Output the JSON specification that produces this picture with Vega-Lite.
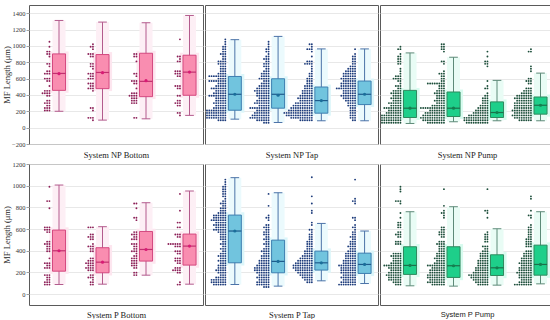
{
"$schema":"https://vega.github.io/schema/vega-lite/v6.json",
"padding":{"left":1,"right":2,"top":4,"bottom":0},
"background":"white",
"spacing":1,
"config":{
 "view":{"stroke":"#5a5a5a","strokeWidth":1},
 "font":"Liberation Serif",
 "axis":{"labelFont":"Liberation Serif","titleFont":"Liberation Serif","labelColor":"#333333","titleColor":"#222222","titleFontWeight":"normal","gridColor":"#e2e2e2","gridWidth":0.8,"ticks":false,"domain":false,"labelFontSize":6.5,"titleFontSize":8.5},
 "axisX":{"labels":false,"grid":false,"titlePadding":5},
 "axisY":{"labelPadding":1,"titlePadding":1,"ticks":true,"tickSize":3,"tickColor":"#888888","tickWidth":0.8,"format":"d","labelOverlap":false},
 "concat":{"spacing":0}
},
"datasets":{
"st":[
{"p":1,"g":0,"lo":200,"q1":456,"md":663,"q3":902,"hi":1311,"mn":660},
{"p":1,"g":1,"lo":92,"q1":477,"md":675,"q3":894,"hi":1291,"mn":672},
{"p":1,"g":2,"lo":108,"q1":379,"md":566,"q3":910,"hi":1283,"mn":575},
{"p":1,"g":3,"lo":150,"q1":396,"md":679,"q3":886,"hi":1372,"mn":680},
{"p":2,"g":0,"lo":104,"q1":213,"md":408,"q3":626,"hi":1076,"mn":408},
{"p":2,"g":1,"lo":63,"q1":238,"md":408,"q3":598,"hi":1116,"mn":396},
{"p":2,"g":2,"lo":84,"q1":177,"md":331,"q3":497,"hi":963,"mn":331},
{"p":2,"g":3,"lo":84,"q1":282,"md":408,"q3":570,"hi":963,"mn":408},
{"p":3,"g":0,"lo":51,"q1":124,"md":238,"q3":456,"hi":914,"mn":238},
{"p":3,"g":1,"lo":72,"q1":136,"md":238,"q3":436,"hi":861,"mn":238},
{"p":3,"g":2,"lo":84,"q1":124,"md":185,"q3":315,"hi":578,"mn":185},
{"p":3,"g":3,"lo":84,"q1":165,"md":274,"q3":375,"hi":667,"mn":274},
{"p":4,"g":0,"lo":89,"q1":212,"md":400,"q3":591,"hi":1006,"mn":400},
{"p":4,"g":1,"lo":92,"q1":197,"md":295,"q3":428,"hi":622,"mn":295},
{"p":4,"g":2,"lo":175,"q1":305,"md":412,"q3":578,"hi":843,"mn":412},
{"p":4,"g":3,"lo":92,"q1":268,"md":443,"q3":554,"hi":951,"mn":443},
{"p":5,"g":0,"lo":89,"q1":289,"md":582,"q3":729,"hi":1074,"mn":582},
{"p":5,"g":1,"lo":74,"q1":197,"md":302,"q3":498,"hi":935,"mn":302},
{"p":5,"g":2,"lo":123,"q1":222,"md":289,"q3":397,"hi":652,"mn":289},
{"p":5,"g":3,"lo":98,"q1":191,"md":274,"q3":378,"hi":582,"mn":274},
{"p":6,"g":0,"lo":77,"q1":182,"md":265,"q3":437,"hi":760,"mn":265},
{"p":6,"g":1,"lo":74,"q1":154,"md":262,"q3":437,"hi":806,"mn":262},
{"p":6,"g":2,"lo":83,"q1":172,"md":243,"q3":363,"hi":603,"mn":243},
{"p":6,"g":3,"lo":95,"q1":175,"md":274,"q3":452,"hi":760,"mn":274}
],
"a1":[1050,990,930,930,900,900,870,780,780,750,690,690,660,660,660,600,600,600,570,570,510,450,450,450,420,420,420,420,390,390,330,330,300,300,300,270,270,240,240,240,210,210,210],
"a2":[1020,990,990,960,900,900,900,870,870,780,780,750,750,720,660,660,660,630,630,600,600,600,540,540,540,510,510,480,480,480,450,240,240,210,120,120,120,90],
"a3":[900,900,870,870,810,660,660,630,570,570,570,540,540,480,420,420,420,390,390,390,390,360,360,360,330,330,330,300,300,300,120,120],
"a4":[1080,870,870,840,810,810,690,690,690,660,660,660,630,630,510,510,510,480,480,390,390,330,330,300,300,300,270,270,180,180,150],
"b1":[1080,1050,1020,990,990,960,960,930,930,900,900,900,870,870,840,840,810,810,810,810,780,780,780,780,750,750,750,720,720,720,690,690,690,660,660,660,660,630,630,630,630,630,630,630,630,600,600,600,600,570,570,570,570,570,570,570,570,540,540,540,540,510,510,510,510,510,480,480,480,480,480,480,480,450,450,450,450,450,420,420,420,420,420,420,390,390,390,390,390,390,390,390,360,360,360,360,360,330,330,330,330,330,300,300,300,300,300,300,270,270,270,270,270,240,240,240,240,240,240,210,210,210,210,210,210,210,210,210,180,180,180,180,180,180,180,180,180,150,150,150,150,150,150,150,150,150,120,120,120,120,120,120,120,120,120,90,90,90,90],
"b2":[1050,1020,990,960,960,930,930,900,870,870,840,840,840,810,810,780,780,780,750,750,750,720,720,690,690,690,660,660,660,660,630,630,630,630,600,600,600,600,600,570,570,570,540,540,540,540,510,510,510,510,510,480,480,480,480,480,480,450,450,450,450,450,450,450,420,420,420,420,420,420,390,390,390,390,390,390,360,360,360,360,360,330,330,330,330,330,330,300,300,300,300,300,300,300,270,270,270,270,270,240,240,240,240,240,240,240,240,240,210,210,210,210,210,210,180,180,180,180,180,180,180,150,150,150,150,150,150,150,150,120,120,120,120,120,120,120,120,120,90,90,90,90,90,90,60,60,60],
"b3":[1020,1020,990,960,960,960,930,870,810,810,810,780,780,780,780,750,720,690,660,660,630,630,600,600,600,570,570,570,540,540,540,510,510,510,510,480,480,480,480,450,450,450,450,450,420,420,420,420,420,390,390,390,390,390,390,360,360,360,360,360,360,360,330,330,330,330,330,330,300,300,300,300,300,300,300,300,270,270,270,270,270,270,270,270,270,240,240,240,240,240,240,240,240,240,240,210,210,210,210,210,210,210,210,210,210,210,180,180,180,180,180,180,180,180,180,180,180,180,180,150,150,150,150,150,150,150,150,150,150,150,150,120,120,120,120,120,120,120,120,120,120,90,90,90,90,90,90],
"b4":[960,900,870,870,840,840,810,810,780,780,750,750,750,720,720,720,720,690,690,690,690,690,660,660,660,660,660,660,630,630,630,630,630,630,600,600,600,600,600,600,600,570,570,570,570,570,570,540,540,540,540,540,540,540,510,510,510,510,510,510,510,480,480,480,480,480,480,480,480,480,450,450,450,450,450,450,420,420,420,420,420,420,390,390,390,390,390,390,390,360,360,360,360,360,360,330,330,330,330,330,300,300,300,300,270,270,270,270,240,240,240,210,210,210,180,180,180,150,150,150,120,120,120,90,90],
"c1":[990,960,960,900,870,870,840,840,810,810,780,780,720,690,660,630,630,630,600,600,600,600,570,570,540,510,510,510,480,480,450,450,450,450,420,420,420,420,420,390,390,390,390,360,360,360,360,360,330,330,330,330,300,300,300,300,300,300,270,270,270,270,270,240,240,240,240,240,240,240,240,210,210,210,210,210,210,180,180,180,180,180,180,180,150,150,150,150,150,150,150,150,150,120,120,120,120,120,120,120,120,120,90,90,90,90,90,90,90,90,90,60,60,60,60,60,60,60,60,60],
"c2":[1020,1020,990,990,960,960,930,810,810,780,690,660,660,660,630,630,600,600,570,570,540,540,540,540,540,540,540,540,510,510,510,480,480,480,450,450,450,450,420,420,420,420,420,390,390,390,390,360,360,360,360,330,330,330,330,330,300,300,300,300,270,270,270,270,270,270,240,240,240,240,240,240,240,240,240,240,240,210,210,210,210,210,210,210,180,180,180,180,180,180,180,180,180,150,150,150,150,150,150,150,150,150,150,120,120,120,120,120,120,120,120,120,120,120,90,90,90,90,90,90,90,90,90,90,60,60,60,60,60,60,60,60],
"c3":[930,870,810,810,780,780,750,570,510,480,480,420,390,390,360,360,360,330,330,330,300,300,300,270,270,270,270,240,240,240,240,240,210,210,210,210,210,210,180,180,180,180,180,180,180,150,150,150,150,150,150,150,150,150,120,120,120,120,120,120,120,120,120,120,120,90,90,90,90,90,90,90,90,90,90,90,60,60,60,60,60,60,60,60,60,60],
"c4":[960,930,930,750,720,690,600,600,570,570,570,540,540,480,480,480,450,450,450,450,420,420,420,420,420,390,390,390,390,390,390,390,360,360,360,360,360,360,360,360,330,330,330,330,330,330,330,300,300,300,300,300,300,300,300,270,270,270,270,270,270,270,270,240,240,240,240,240,240,240,240,210,210,210,210,210,210,210,210,210,180,180,180,180,180,180,180,180,150,150,150,150,150,150,150,150,150,120,120,120,120,120,120,120,120,90,90,90,90,90,90],
"d1":[990,858,858,792,616,616,616,594,594,594,572,572,484,484,462,462,462,440,440,418,418,396,396,330,286,286,286,264,264,242,242,242,176,176,176,154,154,132,132,110,110,110,88,88,88],
"d2":[616,616,616,550,550,528,528,528,506,506,462,440,440,440,418,418,396,396,330,330,308,308,308,286,286,286,286,264,264,264,242,242,242,242,220,220,220,176,176,154,154,154,132,110,110,88,88],
"d3":[836,836,792,704,704,682,572,572,550,550,550,528,528,506,506,506,462,462,462,440,440,418,418,396,396,396,374,352,352,330,330,330,308,308,308,286,286,286,264,264,264,242,242,198,198,176,176],
"d4":[924,770,660,660,616,616,550,550,550,528,528,462,462,462,462,462,462,440,440,440,396,396,396,374,374,330,330,330,308,308,308,286,286,242,242,242,220,220,220,220,198,198,110,88,88],
"e1":[1056,1034,1012,990,990,968,968,946,946,924,924,902,902,880,858,858,836,836,836,814,814,792,792,792,770,770,770,748,748,748,748,726,726,726,726,726,726,704,704,704,704,704,704,682,682,682,682,682,682,682,660,660,660,660,660,638,638,638,638,638,638,616,616,616,616,616,594,594,594,594,594,594,572,572,572,572,550,550,550,528,528,528,506,506,506,484,484,462,462,462,440,440,418,418,418,396,396,374,374,374,352,352,352,352,330,330,330,308,308,308,308,286,286,286,264,264,264,264,242,242,242,242,220,220,220,220,220,198,198,198,198,176,176,176,154,154,154,154,154,132,132,132,132,132,132,132,110,110,110,110,110,110,110,88,88,88,88,88,88],
"e2":[924,814,726,704,704,682,638,638,616,616,616,594,594,572,572,572,550,550,550,528,528,506,506,506,484,484,462,462,462,440,440,418,418,418,396,396,396,396,374,374,374,352,352,352,352,330,330,330,330,308,308,308,308,308,286,286,286,286,286,264,264,264,264,264,264,242,242,242,242,242,242,242,220,220,220,220,220,220,220,198,198,198,198,198,198,176,176,176,176,176,154,154,154,154,154,154,132,132,132,132,132,110,110,110,110,110,110,88,88,88,88,88,88,66,66,66],
"e3":[1078,902,836,770,748,660,638,594,594,572,550,550,528,528,506,506,484,484,484,462,462,462,440,440,440,418,418,418,396,396,396,396,374,374,374,374,352,352,352,352,352,330,330,330,330,330,330,308,308,308,308,308,308,308,286,286,286,286,286,286,286,286,264,264,264,264,264,264,264,264,264,242,242,242,242,242,242,242,242,242,220,220,220,220,220,220,220,220,198,198,198,198,198,198,198,176,176,176,176,176,176,154,154,154,154,154,132,132,132,132,110,110,110],
"e4":[1056,880,858,858,836,704,704,682,638,616,616,594,572,572,550,550,528,528,528,506,506,484,484,484,462,462,462,440,440,440,440,418,418,418,396,396,396,396,374,374,374,374,374,352,352,352,352,352,330,330,330,330,330,308,308,308,308,308,308,286,286,286,286,286,286,264,264,264,264,264,264,264,264,242,242,242,242,242,242,242,220,220,220,220,220,220,220,198,198,198,198,198,198,198,176,176,176,176,176,176,154,154,154,154,154,154,154,132,132,132,132,132,132,110,110,110,110,110,110,110,88,88,88,88,88,88,88,88],
"f1":[990,968,946,858,858,858,836,748,704,660,660,638,638,616,616,572,572,550,550,550,528,528,484,484,484,462,462,462,374,374,374,374,352,352,352,352,352,330,330,330,330,308,308,308,308,286,286,286,286,286,264,264,264,264,264,264,264,264,242,242,242,242,242,242,220,220,220,220,220,198,198,198,198,198,198,176,176,176,176,176,176,176,154,154,154,154,154,154,132,132,132,132,132,132,110,110,110,110,88,88,88],
"f2":[968,814,770,748,748,726,704,616,616,594,594,572,572,572,550,550,550,528,528,484,484,484,462,462,462,462,440,440,440,418,418,418,396,396,396,374,374,374,374,352,352,352,352,330,330,330,330,330,308,308,308,308,286,286,286,286,286,264,264,264,264,264,264,264,264,242,242,242,242,242,242,220,220,220,220,220,220,220,198,198,198,198,198,198,198,176,176,176,176,176,176,176,176,154,154,154,154,154,154,154,154,132,132,132,132,132,132,132,110,110,110,110,110,110,110,110,88,88,88,88,88,88],
"f3":[968,770,770,748,704,572,550,550,528,528,506,506,484,484,440,440,440,418,418,396,396,396,374,374,374,374,352,352,352,352,330,330,330,330,308,308,308,308,308,286,286,286,286,286,264,264,264,264,264,242,242,242,242,242,242,220,220,220,220,220,220,198,198,198,198,198,198,198,176,176,176,176,176,176,176,176,176,154,154,154,154,154,154,154,154,132,132,132,132,132,132,132,110,110,110,110,110,110,88,88,88,88,88],
"f4":[902,880,770,726,726,704,638,616,616,594,594,572,572,550,550,528,528,506,506,506,484,484,484,462,462,462,440,440,440,396,396,396,374,374,374,374,352,352,352,352,330,330,330,330,330,308,308,308,308,308,286,286,286,286,286,286,264,264,264,264,264,242,242,242,242,242,242,220,220,220,220,220,220,198,198,198,198,198,198,198,176,176,176,176,176,176,154,154,154,154,154,154,132,132,132,132,132,110,110,110,110,110,110,88,88,88,88,88,88,88,88]
},
"vconcat":[
{"spacing":0,"hconcat":[
{"width":174,"height":139,"layer":[
 {"data":{"name":"st"},"transform":[{"filter":"datum.p==1"},{"calculate":"datum.g+0.69","as":"x"},{"calculate":"datum.g+0.54","as":"xa"},{"calculate":"datum.g+0.84","as":"xb"},{"calculate":"datum.g+0.59","as":"ca"},{"calculate":"datum.g+0.79","as":"cb"},{"calculate":"datum.g+0.47","as":"ha"},{"calculate":"datum.g+0.91","as":"hb"},{"calculate":"datum.q1-30","as":"hl"},{"calculate":"datum.q3+30","as":"hh"}],
 "layer":[
  {"mark":{"type":"rect","fill":"#fde6ef"},"encoding":{"x":{"field":"ha","type":"quantitative","scale":{"domain":[0,4],"nice":false,"zero":false},"axis":{"title":"System NP Bottom","titlePadding":6}},"x2":{"field":"hb"},"y":{"field":"hl","type":"quantitative","scale":{"domain":[-200,1500],"nice":false,"zero":false},"axis":{"title":"MF Length (μm)","values":[-200,0,200,400,600,800,1000,1200,1400],"tickCount":30,"minExtent":17,"maxExtent":17}},"y2":{"field":"hh"}}},
  {"mark":{"type":"rect","fill":"#fdeff5"},"encoding":{"x":{"field":"xa","type":"quantitative"},"x2":{"field":"xb"},"y":{"field":"lo","type":"quantitative"},"y2":{"field":"hi"}}},
  {"mark":{"type":"rule","stroke":"#b35b8d"},"encoding":{"x":{"field":"x","type":"quantitative"},"y":{"field":"lo","type":"quantitative"},"y2":{"field":"hi"}}},
  {"mark":{"type":"rule","stroke":"#b35b8d"},"encoding":{"x":{"field":"ca","type":"quantitative"},"x2":{"field":"cb"},"y":{"field":"lo","type":"quantitative"}}},
  {"mark":{"type":"rule","stroke":"#b35b8d"},"encoding":{"x":{"field":"ca","type":"quantitative"},"x2":{"field":"cb"},"y":{"field":"hi","type":"quantitative"}}},
  {"mark":{"type":"rect","fill":"#f98db0","stroke":"#d4487f","strokeWidth":1},"encoding":{"x":{"field":"xa","type":"quantitative"},"x2":{"field":"xb"},"y":{"field":"q1","type":"quantitative"},"y2":{"field":"q3"}}},
  {"mark":{"type":"rule","stroke":"#c2306f","strokeWidth":1.2},"encoding":{"x":{"field":"xa","type":"quantitative"},"x2":{"field":"xb"},"y":{"field":"md","type":"quantitative"}}},
  {"mark":{"type":"circle","fill":"#d81b74","size":10,"opacity":1},"encoding":{"x":{"field":"x","type":"quantitative"},"y":{"field":"mn","type":"quantitative"}}}
 ]},
 {"data":{"name":"a1"},"transform":[{"window":[{"op":"row_number","as":"r"}],"groupby":["data"]},{"calculate":"0.523-0.053*datum.r","as":"x"}],"mark":{"type":"circle","size":3.5,"opacity":1,"fill":"#8c1f57"},"encoding":{"x":{"field":"x","type":"quantitative"},"y":{"field":"data","type":"quantitative"}}},
 {"data":{"name":"a2"},"transform":[{"window":[{"op":"row_number","as":"r"}],"groupby":["data"]},{"calculate":"1.523-0.053*datum.r","as":"x"}],"mark":{"type":"circle","size":3.5,"opacity":1,"fill":"#8c1f57"},"encoding":{"x":{"field":"x","type":"quantitative"},"y":{"field":"data","type":"quantitative"}}},
 {"data":{"name":"a3"},"transform":[{"window":[{"op":"row_number","as":"r"}],"groupby":["data"]},{"calculate":"2.523-0.053*datum.r","as":"x"}],"mark":{"type":"circle","size":3.5,"opacity":1,"fill":"#8c1f57"},"encoding":{"x":{"field":"x","type":"quantitative"},"y":{"field":"data","type":"quantitative"}}},
 {"data":{"name":"a4"},"transform":[{"window":[{"op":"row_number","as":"r"}],"groupby":["data"]},{"calculate":"3.523-0.053*datum.r","as":"x"}],"mark":{"type":"circle","size":3.5,"opacity":1,"fill":"#8c1f57"},"encoding":{"x":{"field":"x","type":"quantitative"},"y":{"field":"data","type":"quantitative"}}}
]},
{"width":173,"height":139,"layer":[
 {"data":{"name":"st"},"transform":[{"filter":"datum.p==2"},{"calculate":"datum.g+0.69","as":"x"},{"calculate":"datum.g+0.54","as":"xa"},{"calculate":"datum.g+0.84","as":"xb"},{"calculate":"datum.g+0.59","as":"ca"},{"calculate":"datum.g+0.79","as":"cb"},{"calculate":"datum.g+0.47","as":"ha"},{"calculate":"datum.g+0.91","as":"hb"},{"calculate":"datum.q1-30","as":"hl"},{"calculate":"datum.q3+30","as":"hh"}],
 "layer":[
  {"mark":{"type":"rect","fill":"#dcf6fa"},"encoding":{"x":{"field":"ha","type":"quantitative","scale":{"domain":[0,4],"nice":false,"zero":false},"axis":{"title":"System NP Tap","titlePadding":6}},"x2":{"field":"hb"},"y":{"field":"hl","type":"quantitative","scale":{"domain":[-200,1500],"nice":false,"zero":false},"axis":{"title":null,"labels":false,"ticks":false,"values":[-200,0,200,400,600,800,1000,1200,1400],"tickCount":30,"minExtent":0,"maxExtent":0}},"y2":{"field":"hh"}}},
  {"mark":{"type":"rect","fill":"#ebfafd"},"encoding":{"x":{"field":"xa","type":"quantitative"},"x2":{"field":"xb"},"y":{"field":"lo","type":"quantitative"},"y2":{"field":"hi"}}},
  {"mark":{"type":"rule","stroke":"#4b73a8"},"encoding":{"x":{"field":"x","type":"quantitative"},"y":{"field":"lo","type":"quantitative"},"y2":{"field":"hi"}}},
  {"mark":{"type":"rule","stroke":"#4b73a8"},"encoding":{"x":{"field":"ca","type":"quantitative"},"x2":{"field":"cb"},"y":{"field":"lo","type":"quantitative"}}},
  {"mark":{"type":"rule","stroke":"#4b73a8"},"encoding":{"x":{"field":"ca","type":"quantitative"},"x2":{"field":"cb"},"y":{"field":"hi","type":"quantitative"}}},
  {"mark":{"type":"rect","fill":"#71c4de","stroke":"#3d7fb0","strokeWidth":1},"encoding":{"x":{"field":"xa","type":"quantitative"},"x2":{"field":"xb"},"y":{"field":"q1","type":"quantitative"},"y2":{"field":"q3"}}},
  {"mark":{"type":"rule","stroke":"#1f5c8c","strokeWidth":1.2},"encoding":{"x":{"field":"xa","type":"quantitative"},"x2":{"field":"xb"},"y":{"field":"md","type":"quantitative"}}},
  {"mark":{"type":"circle","fill":"#1b6e9a","size":10,"opacity":1},"encoding":{"x":{"field":"x","type":"quantitative"},"y":{"field":"mn","type":"quantitative"}}}
 ]},
 {"data":{"name":"b1"},"transform":[{"window":[{"op":"row_number","as":"r"}],"groupby":["data"]},{"calculate":"0.523-0.053*datum.r","as":"x"}],"mark":{"type":"circle","size":3.5,"opacity":1,"fill":"#1b3a7a"},"encoding":{"x":{"field":"x","type":"quantitative"},"y":{"field":"data","type":"quantitative"}}},
 {"data":{"name":"b2"},"transform":[{"window":[{"op":"row_number","as":"r"}],"groupby":["data"]},{"calculate":"1.523-0.053*datum.r","as":"x"}],"mark":{"type":"circle","size":3.5,"opacity":1,"fill":"#1b3a7a"},"encoding":{"x":{"field":"x","type":"quantitative"},"y":{"field":"data","type":"quantitative"}}},
 {"data":{"name":"b3"},"transform":[{"window":[{"op":"row_number","as":"r"}],"groupby":["data"]},{"calculate":"2.523-0.053*datum.r","as":"x"}],"mark":{"type":"circle","size":3.5,"opacity":1,"fill":"#1b3a7a"},"encoding":{"x":{"field":"x","type":"quantitative"},"y":{"field":"data","type":"quantitative"}}},
 {"data":{"name":"b4"},"transform":[{"window":[{"op":"row_number","as":"r"}],"groupby":["data"]},{"calculate":"3.523-0.053*datum.r","as":"x"}],"mark":{"type":"circle","size":3.5,"opacity":1,"fill":"#1b3a7a"},"encoding":{"x":{"field":"x","type":"quantitative"},"y":{"field":"data","type":"quantitative"}}}
]},
{"width":174,"height":139,"layer":[
 {"data":{"name":"st"},"transform":[{"filter":"datum.p==3"},{"calculate":"datum.g+0.69","as":"x"},{"calculate":"datum.g+0.54","as":"xa"},{"calculate":"datum.g+0.84","as":"xb"},{"calculate":"datum.g+0.59","as":"ca"},{"calculate":"datum.g+0.79","as":"cb"},{"calculate":"datum.g+0.47","as":"ha"},{"calculate":"datum.g+0.91","as":"hb"},{"calculate":"datum.q1-30","as":"hl"},{"calculate":"datum.q3+30","as":"hh"}],
 "layer":[
  {"mark":{"type":"rect","fill":"#d8fbef"},"encoding":{"x":{"field":"ha","type":"quantitative","scale":{"domain":[0,4],"nice":false,"zero":false},"axis":{"title":"System NP Pump","titlePadding":6}},"x2":{"field":"hb"},"y":{"field":"hl","type":"quantitative","scale":{"domain":[-200,1500],"nice":false,"zero":false},"axis":{"title":null,"labels":false,"ticks":false,"values":[-200,0,200,400,600,800,1000,1200,1400],"tickCount":30,"minExtent":0,"maxExtent":0}},"y2":{"field":"hh"}}},
  {"mark":{"type":"rect","fill":"#e9fcf5"},"encoding":{"x":{"field":"xa","type":"quantitative"},"x2":{"field":"xb"},"y":{"field":"lo","type":"quantitative"},"y2":{"field":"hi"}}},
  {"mark":{"type":"rule","stroke":"#5d8a78"},"encoding":{"x":{"field":"x","type":"quantitative"},"y":{"field":"lo","type":"quantitative"},"y2":{"field":"hi"}}},
  {"mark":{"type":"rule","stroke":"#5d8a78"},"encoding":{"x":{"field":"ca","type":"quantitative"},"x2":{"field":"cb"},"y":{"field":"lo","type":"quantitative"}}},
  {"mark":{"type":"rule","stroke":"#5d8a78"},"encoding":{"x":{"field":"ca","type":"quantitative"},"x2":{"field":"cb"},"y":{"field":"hi","type":"quantitative"}}},
  {"mark":{"type":"rect","fill":"#1ecf8a","stroke":"#2e8a5e","strokeWidth":1},"encoding":{"x":{"field":"xa","type":"quantitative"},"x2":{"field":"xb"},"y":{"field":"q1","type":"quantitative"},"y2":{"field":"q3"}}},
  {"mark":{"type":"rule","stroke":"#1d6e4a","strokeWidth":1.2},"encoding":{"x":{"field":"xa","type":"quantitative"},"x2":{"field":"xb"},"y":{"field":"md","type":"quantitative"}}},
  {"mark":{"type":"circle","fill":"#12804f","size":10,"opacity":1},"encoding":{"x":{"field":"x","type":"quantitative"},"y":{"field":"mn","type":"quantitative"}}}
 ]},
 {"data":{"name":"c1"},"transform":[{"window":[{"op":"row_number","as":"r"}],"groupby":["data"]},{"calculate":"0.523-0.053*datum.r","as":"x"}],"mark":{"type":"circle","size":3.5,"opacity":1,"fill":"#1b4d39"},"encoding":{"x":{"field":"x","type":"quantitative"},"y":{"field":"data","type":"quantitative"}}},
 {"data":{"name":"c2"},"transform":[{"window":[{"op":"row_number","as":"r"}],"groupby":["data"]},{"calculate":"1.523-0.053*datum.r","as":"x"}],"mark":{"type":"circle","size":3.5,"opacity":1,"fill":"#1b4d39"},"encoding":{"x":{"field":"x","type":"quantitative"},"y":{"field":"data","type":"quantitative"}}},
 {"data":{"name":"c3"},"transform":[{"window":[{"op":"row_number","as":"r"}],"groupby":["data"]},{"calculate":"2.523-0.053*datum.r","as":"x"}],"mark":{"type":"circle","size":3.5,"opacity":1,"fill":"#1b4d39"},"encoding":{"x":{"field":"x","type":"quantitative"},"y":{"field":"data","type":"quantitative"}}},
 {"data":{"name":"c4"},"transform":[{"window":[{"op":"row_number","as":"r"}],"groupby":["data"]},{"calculate":"3.523-0.053*datum.r","as":"x"}],"mark":{"type":"circle","size":3.5,"opacity":1,"fill":"#1b4d39"},"encoding":{"x":{"field":"x","type":"quantitative"},"y":{"field":"data","type":"quantitative"}}}
]}
]},
{"spacing":0,"hconcat":[
{"width":174,"height":141,"layer":[
 {"data":{"name":"st"},"transform":[{"filter":"datum.p==4"},{"calculate":"datum.g+0.69","as":"x"},{"calculate":"datum.g+0.54","as":"xa"},{"calculate":"datum.g+0.84","as":"xb"},{"calculate":"datum.g+0.59","as":"ca"},{"calculate":"datum.g+0.79","as":"cb"},{"calculate":"datum.g+0.47","as":"ha"},{"calculate":"datum.g+0.91","as":"hb"},{"calculate":"datum.q1-25","as":"hl"},{"calculate":"datum.q3+25","as":"hh"}],
 "layer":[
  {"mark":{"type":"rect","fill":"#fde6ef"},"encoding":{"x":{"field":"ha","type":"quantitative","scale":{"domain":[0,4],"nice":false,"zero":false},"axis":{"title":"System P Bottom","titlePadding":5}},"x2":{"field":"hb"},"y":{"field":"hl","type":"quantitative","scale":{"domain":[-100,1200],"nice":false,"zero":false},"axis":{"title":"MF Length (μm)","values":[0,200,400,600,800,1000,1200],"tickCount":30,"minExtent":17,"maxExtent":17}},"y2":{"field":"hh"}}},
  {"mark":{"type":"rect","fill":"#fdeff5"},"encoding":{"x":{"field":"xa","type":"quantitative"},"x2":{"field":"xb"},"y":{"field":"lo","type":"quantitative"},"y2":{"field":"hi"}}},
  {"mark":{"type":"rule","stroke":"#b35b8d"},"encoding":{"x":{"field":"x","type":"quantitative"},"y":{"field":"lo","type":"quantitative"},"y2":{"field":"hi"}}},
  {"mark":{"type":"rule","stroke":"#b35b8d"},"encoding":{"x":{"field":"ca","type":"quantitative"},"x2":{"field":"cb"},"y":{"field":"lo","type":"quantitative"}}},
  {"mark":{"type":"rule","stroke":"#b35b8d"},"encoding":{"x":{"field":"ca","type":"quantitative"},"x2":{"field":"cb"},"y":{"field":"hi","type":"quantitative"}}},
  {"mark":{"type":"rect","fill":"#f98db0","stroke":"#d4487f","strokeWidth":1},"encoding":{"x":{"field":"xa","type":"quantitative"},"x2":{"field":"xb"},"y":{"field":"q1","type":"quantitative"},"y2":{"field":"q3"}}},
  {"mark":{"type":"rule","stroke":"#c2306f","strokeWidth":1.2},"encoding":{"x":{"field":"xa","type":"quantitative"},"x2":{"field":"xb"},"y":{"field":"md","type":"quantitative"}}},
  {"mark":{"type":"circle","fill":"#d81b74","size":10,"opacity":1},"encoding":{"x":{"field":"x","type":"quantitative"},"y":{"field":"mn","type":"quantitative"}}}
 ]},
 {"data":{"name":"d1"},"transform":[{"window":[{"op":"row_number","as":"r"}],"groupby":["data"]},{"calculate":"0.523-0.053*datum.r","as":"x"}],"mark":{"type":"circle","size":3.5,"opacity":1,"fill":"#8c1f57"},"encoding":{"x":{"field":"x","type":"quantitative"},"y":{"field":"data","type":"quantitative"}}},
 {"data":{"name":"d2"},"transform":[{"window":[{"op":"row_number","as":"r"}],"groupby":["data"]},{"calculate":"1.523-0.053*datum.r","as":"x"}],"mark":{"type":"circle","size":3.5,"opacity":1,"fill":"#8c1f57"},"encoding":{"x":{"field":"x","type":"quantitative"},"y":{"field":"data","type":"quantitative"}}},
 {"data":{"name":"d3"},"transform":[{"window":[{"op":"row_number","as":"r"}],"groupby":["data"]},{"calculate":"2.523-0.053*datum.r","as":"x"}],"mark":{"type":"circle","size":3.5,"opacity":1,"fill":"#8c1f57"},"encoding":{"x":{"field":"x","type":"quantitative"},"y":{"field":"data","type":"quantitative"}}},
 {"data":{"name":"d4"},"transform":[{"window":[{"op":"row_number","as":"r"}],"groupby":["data"]},{"calculate":"3.523-0.053*datum.r","as":"x"}],"mark":{"type":"circle","size":3.5,"opacity":1,"fill":"#8c1f57"},"encoding":{"x":{"field":"x","type":"quantitative"},"y":{"field":"data","type":"quantitative"}}}
]},
{"width":173,"height":141,"layer":[
 {"data":{"name":"st"},"transform":[{"filter":"datum.p==5"},{"calculate":"datum.g+0.69","as":"x"},{"calculate":"datum.g+0.54","as":"xa"},{"calculate":"datum.g+0.84","as":"xb"},{"calculate":"datum.g+0.59","as":"ca"},{"calculate":"datum.g+0.79","as":"cb"},{"calculate":"datum.g+0.47","as":"ha"},{"calculate":"datum.g+0.91","as":"hb"},{"calculate":"datum.q1-25","as":"hl"},{"calculate":"datum.q3+25","as":"hh"}],
 "layer":[
  {"mark":{"type":"rect","fill":"#dcf6fa"},"encoding":{"x":{"field":"ha","type":"quantitative","scale":{"domain":[0,4],"nice":false,"zero":false},"axis":{"title":"System P Tap","titlePadding":5}},"x2":{"field":"hb"},"y":{"field":"hl","type":"quantitative","scale":{"domain":[-100,1200],"nice":false,"zero":false},"axis":{"title":null,"labels":false,"ticks":false,"values":[0,200,400,600,800,1000,1200],"tickCount":30,"minExtent":0,"maxExtent":0}},"y2":{"field":"hh"}}},
  {"mark":{"type":"rect","fill":"#ebfafd"},"encoding":{"x":{"field":"xa","type":"quantitative"},"x2":{"field":"xb"},"y":{"field":"lo","type":"quantitative"},"y2":{"field":"hi"}}},
  {"mark":{"type":"rule","stroke":"#4b73a8"},"encoding":{"x":{"field":"x","type":"quantitative"},"y":{"field":"lo","type":"quantitative"},"y2":{"field":"hi"}}},
  {"mark":{"type":"rule","stroke":"#4b73a8"},"encoding":{"x":{"field":"ca","type":"quantitative"},"x2":{"field":"cb"},"y":{"field":"lo","type":"quantitative"}}},
  {"mark":{"type":"rule","stroke":"#4b73a8"},"encoding":{"x":{"field":"ca","type":"quantitative"},"x2":{"field":"cb"},"y":{"field":"hi","type":"quantitative"}}},
  {"mark":{"type":"rect","fill":"#71c4de","stroke":"#3d7fb0","strokeWidth":1},"encoding":{"x":{"field":"xa","type":"quantitative"},"x2":{"field":"xb"},"y":{"field":"q1","type":"quantitative"},"y2":{"field":"q3"}}},
  {"mark":{"type":"rule","stroke":"#1f5c8c","strokeWidth":1.2},"encoding":{"x":{"field":"xa","type":"quantitative"},"x2":{"field":"xb"},"y":{"field":"md","type":"quantitative"}}},
  {"mark":{"type":"circle","fill":"#1b6e9a","size":10,"opacity":1},"encoding":{"x":{"field":"x","type":"quantitative"},"y":{"field":"mn","type":"quantitative"}}}
 ]},
 {"data":{"name":"e1"},"transform":[{"window":[{"op":"row_number","as":"r"}],"groupby":["data"]},{"calculate":"0.523-0.053*datum.r","as":"x"}],"mark":{"type":"circle","size":3.5,"opacity":1,"fill":"#1b3a7a"},"encoding":{"x":{"field":"x","type":"quantitative"},"y":{"field":"data","type":"quantitative"}}},
 {"data":{"name":"e2"},"transform":[{"window":[{"op":"row_number","as":"r"}],"groupby":["data"]},{"calculate":"1.523-0.053*datum.r","as":"x"}],"mark":{"type":"circle","size":3.5,"opacity":1,"fill":"#1b3a7a"},"encoding":{"x":{"field":"x","type":"quantitative"},"y":{"field":"data","type":"quantitative"}}},
 {"data":{"name":"e3"},"transform":[{"window":[{"op":"row_number","as":"r"}],"groupby":["data"]},{"calculate":"2.523-0.053*datum.r","as":"x"}],"mark":{"type":"circle","size":3.5,"opacity":1,"fill":"#1b3a7a"},"encoding":{"x":{"field":"x","type":"quantitative"},"y":{"field":"data","type":"quantitative"}}},
 {"data":{"name":"e4"},"transform":[{"window":[{"op":"row_number","as":"r"}],"groupby":["data"]},{"calculate":"3.523-0.053*datum.r","as":"x"}],"mark":{"type":"circle","size":3.5,"opacity":1,"fill":"#1b3a7a"},"encoding":{"x":{"field":"x","type":"quantitative"},"y":{"field":"data","type":"quantitative"}}}
]},
{"width":174,"height":141,"layer":[
 {"data":{"name":"st"},"transform":[{"filter":"datum.p==6"},{"calculate":"datum.g+0.69","as":"x"},{"calculate":"datum.g+0.54","as":"xa"},{"calculate":"datum.g+0.84","as":"xb"},{"calculate":"datum.g+0.59","as":"ca"},{"calculate":"datum.g+0.79","as":"cb"},{"calculate":"datum.g+0.47","as":"ha"},{"calculate":"datum.g+0.91","as":"hb"},{"calculate":"datum.q1-25","as":"hl"},{"calculate":"datum.q3+25","as":"hh"}],
 "layer":[
  {"mark":{"type":"rect","fill":"#d8fbef"},"encoding":{"x":{"field":"ha","type":"quantitative","scale":{"domain":[0,4],"nice":false,"zero":false},"axis":{"title":"System P Pump","titlePadding":5,"titleFont":"Liberation Sans","titleFontSize":7.5}},"x2":{"field":"hb"},"y":{"field":"hl","type":"quantitative","scale":{"domain":[-100,1200],"nice":false,"zero":false},"axis":{"title":null,"labels":false,"ticks":false,"values":[0,200,400,600,800,1000,1200],"tickCount":30,"minExtent":0,"maxExtent":0}},"y2":{"field":"hh"}}},
  {"mark":{"type":"rect","fill":"#e9fcf5"},"encoding":{"x":{"field":"xa","type":"quantitative"},"x2":{"field":"xb"},"y":{"field":"lo","type":"quantitative"},"y2":{"field":"hi"}}},
  {"mark":{"type":"rule","stroke":"#5d8a78"},"encoding":{"x":{"field":"x","type":"quantitative"},"y":{"field":"lo","type":"quantitative"},"y2":{"field":"hi"}}},
  {"mark":{"type":"rule","stroke":"#5d8a78"},"encoding":{"x":{"field":"ca","type":"quantitative"},"x2":{"field":"cb"},"y":{"field":"lo","type":"quantitative"}}},
  {"mark":{"type":"rule","stroke":"#5d8a78"},"encoding":{"x":{"field":"ca","type":"quantitative"},"x2":{"field":"cb"},"y":{"field":"hi","type":"quantitative"}}},
  {"mark":{"type":"rect","fill":"#1ecf8a","stroke":"#2e8a5e","strokeWidth":1},"encoding":{"x":{"field":"xa","type":"quantitative"},"x2":{"field":"xb"},"y":{"field":"q1","type":"quantitative"},"y2":{"field":"q3"}}},
  {"mark":{"type":"rule","stroke":"#1d6e4a","strokeWidth":1.2},"encoding":{"x":{"field":"xa","type":"quantitative"},"x2":{"field":"xb"},"y":{"field":"md","type":"quantitative"}}},
  {"mark":{"type":"circle","fill":"#12804f","size":10,"opacity":1},"encoding":{"x":{"field":"x","type":"quantitative"},"y":{"field":"mn","type":"quantitative"}}}
 ]},
 {"data":{"name":"f1"},"transform":[{"window":[{"op":"row_number","as":"r"}],"groupby":["data"]},{"calculate":"0.523-0.053*datum.r","as":"x"}],"mark":{"type":"circle","size":3.5,"opacity":1,"fill":"#1b4d39"},"encoding":{"x":{"field":"x","type":"quantitative"},"y":{"field":"data","type":"quantitative"}}},
 {"data":{"name":"f2"},"transform":[{"window":[{"op":"row_number","as":"r"}],"groupby":["data"]},{"calculate":"1.523-0.053*datum.r","as":"x"}],"mark":{"type":"circle","size":3.5,"opacity":1,"fill":"#1b4d39"},"encoding":{"x":{"field":"x","type":"quantitative"},"y":{"field":"data","type":"quantitative"}}},
 {"data":{"name":"f3"},"transform":[{"window":[{"op":"row_number","as":"r"}],"groupby":["data"]},{"calculate":"2.523-0.053*datum.r","as":"x"}],"mark":{"type":"circle","size":3.5,"opacity":1,"fill":"#1b4d39"},"encoding":{"x":{"field":"x","type":"quantitative"},"y":{"field":"data","type":"quantitative"}}},
 {"data":{"name":"f4"},"transform":[{"window":[{"op":"row_number","as":"r"}],"groupby":["data"]},{"calculate":"3.523-0.053*datum.r","as":"x"}],"mark":{"type":"circle","size":3.5,"opacity":1,"fill":"#1b4d39"},"encoding":{"x":{"field":"x","type":"quantitative"},"y":{"field":"data","type":"quantitative"}}}
]}
]}
]
}
